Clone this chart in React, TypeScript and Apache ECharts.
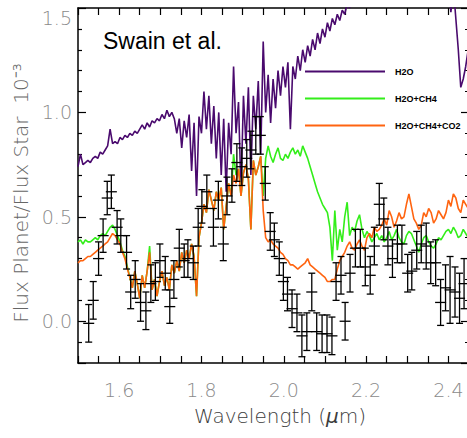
import { useEffect, useRef } from 'react';
import * as echarts from 'echarts';

// Model wavelength grid (micron)
const wavelength = [
  1.500, 1.506, 1.512, 1.518, 1.524, 1.530, 1.536, 1.542, 1.548, 1.554,
  1.560, 1.566, 1.572, 1.578, 1.584, 1.590, 1.596, 1.602, 1.608, 1.614,
  1.620, 1.626, 1.632, 1.638, 1.644, 1.650, 1.656, 1.662, 1.668, 1.674,
  1.680, 1.686, 1.692, 1.698, 1.704, 1.710, 1.716, 1.722, 1.728, 1.734,
  1.740, 1.746, 1.752, 1.758, 1.764, 1.770, 1.776, 1.782, 1.788, 1.794,
  1.800, 1.806, 1.812, 1.818, 1.824, 1.830, 1.836, 1.842, 1.848, 1.854,
  1.860, 1.866, 1.872, 1.878, 1.884, 1.890, 1.896, 1.902, 1.908, 1.914,
  1.920, 1.926, 1.932, 1.938, 1.944, 1.950, 1.956, 1.962, 1.968, 1.974,
  1.980, 1.986, 1.992, 1.998, 2.004, 2.010, 2.016, 2.022, 2.028, 2.034,
  2.040, 2.046, 2.052, 2.058, 2.064, 2.070, 2.076, 2.082, 2.088, 2.094,
  2.100, 2.106, 2.112, 2.118, 2.124, 2.130, 2.136, 2.142, 2.148, 2.154,
  2.160, 2.166, 2.172, 2.178, 2.184, 2.190, 2.196, 2.202, 2.208, 2.214,
  2.220, 2.226, 2.232, 2.238, 2.244, 2.250, 2.256, 2.262, 2.268, 2.274,
  2.280, 2.286, 2.292, 2.298, 2.304, 2.310, 2.316, 2.322, 2.328, 2.334,
  2.340, 2.346, 2.352, 2.358, 2.364, 2.370, 2.376, 2.382, 2.388, 2.394,
  2.400, 2.406, 2.412, 2.418, 2.424, 2.430, 2.436, 2.442, 2.448,
];

// H2O model (x 10^-3)
const fluxH2O = [
  0.74, 0.80, 0.75, 0.76, 0.77, 0.76, 0.78, 0.79, 0.78, 0.81,
  0.80, 0.82, 0.84, 0.92, 0.85, 0.86, 0.85, 0.88, 0.87, 0.89,
  0.88, 0.90, 0.89, 0.91, 0.90, 0.92, 0.94, 0.92, 0.95, 0.93,
  0.96, 0.95, 0.97, 0.96, 0.99, 0.97, 1.01, 0.98, 1.00, 0.97,
  0.90, 0.97, 0.83, 0.96, 0.88, 0.99, 0.72, 0.95, 0.60, 0.98,
  0.90, 1.10, 0.92, 1.08, 0.85, 1.03, 0.78, 1.00, 0.70, 0.97,
  0.62, 0.95, 0.80, 1.22, 0.90, 1.05, 0.62, 1.08, 0.85, 1.12,
  0.70, 1.08, 0.92, 1.15, 0.80, 1.34, 1.00, 1.18, 0.95, 1.16,
  1.02, 1.20, 1.08, 1.22, 1.12, 1.24, 0.92, 1.22, 1.16, 1.27,
  1.20, 1.30, 1.24, 1.32, 1.27, 1.35, 1.30, 1.38, 1.33, 1.40,
  1.36, 1.43, 1.39, 1.45, 1.42, 1.47, 1.44, 1.49, 1.47, 1.52,
  1.50, 1.55, 1.58, null, null, null, null, null, null, null,
  null, null, null, null, null, null, null, null, null, null,
  null, null, null, null, null, null, null, null, null, null,
  null, null, null, null, null, null, null, null, null, 1.66,
  1.62, 1.48, 1.60, 1.45, 1.30, 1.12, 1.16, 1.22, 1.30,
];

// H2O + CH4 model
const fluxH2OCH4 = [
  0.38, 0.39, 0.37, 0.39, 0.38, 0.38, 0.39, 0.40, 0.39, 0.41,
  0.42, 0.41, 0.43, 0.45, 0.46, 0.44, 0.41, 0.38, 0.34, 0.31,
  0.26, 0.21, 0.16, 0.24, 0.18, 0.11, 0.22, 0.16, 0.24, 0.36,
  0.15, 0.20, 0.12, 0.19, 0.24, 0.17, 0.21, 0.15, 0.27, 0.23,
  0.29, 0.24, 0.33, 0.28, 0.34, 0.30, 0.37, 0.31, 0.12, 0.40,
  0.47, 0.56, 0.52, 0.63, 0.58, 0.53, 0.62, 0.58, 0.64, 0.44,
  0.55, 0.66, 0.60, 0.80, 0.70, 0.73, 0.60, 0.71, 0.75, 0.68,
  0.44, 0.77, 0.70, 0.74, 0.79, 0.60, 0.78, 0.84, 0.79, 0.76,
  0.80, 0.83, 0.78, 0.77, 0.80, 0.78, 0.81, 0.83, 0.80, 0.82,
  0.79, 0.84, 0.81, 0.78, 0.74, 0.70, 0.66, 0.62, 0.59, 0.56,
  0.54, 0.52, 0.45, 0.29, 0.53, 0.34, 0.44, 0.38, 0.50, 0.57,
  0.41, 0.45, 0.43, 0.48, 0.51, 0.44, 0.40, 0.43, 0.41, 0.38,
  0.40, 0.42, 0.39, 0.41, 0.38, 0.40, 0.43, 0.39, 0.41, 0.44,
  0.40, 0.38, 0.37, 0.41, 0.43, 0.42, 0.39, 0.36, 0.33, 0.37,
  0.40, 0.41, 0.38, 0.36, 0.35, 0.37, 0.40, 0.39, 0.41, 0.43,
  0.44, 0.42, 0.45, 0.43, 0.40, 0.41, 0.44, 0.42, 0.40,
];

// H2O + CH4 + CO2 model
const fluxH2OCH4CO2 = [
  0.28, 0.29, 0.29, 0.30, 0.31, 0.31, 0.32, 0.33, 0.34, 0.35,
  0.36, 0.37, 0.38, 0.40, 0.42, 0.41, 0.39, 0.37, 0.33, 0.30,
  0.25, 0.21, 0.16, 0.24, 0.18, 0.11, 0.22, 0.16, 0.24, 0.33,
  0.15, 0.20, 0.12, 0.19, 0.24, 0.17, 0.21, 0.15, 0.27, 0.23,
  0.29, 0.24, 0.33, 0.28, 0.34, 0.30, 0.37, 0.31, 0.12, 0.40,
  0.47, 0.56, 0.52, 0.63, 0.58, 0.53, 0.62, 0.58, 0.64, 0.44,
  0.55, 0.66, 0.60, 0.70, 0.66, 0.73, 0.60, 0.71, 0.75, 0.68,
  0.44, 0.77, 0.70, 0.74, 0.79, 0.53, 0.40, 0.38, 0.39, 0.37,
  0.36, 0.35, 0.33, 0.32, 0.30, 0.29, 0.27, 0.27, 0.26, 0.25,
  0.26, 0.27, 0.28, 0.30, 0.27, 0.26, 0.25, 0.24, 0.23, 0.22,
  0.21, 0.19, 0.19, 0.20, 0.20, 0.25, 0.29, 0.31, 0.33, 0.36,
  0.38, 0.35, 0.34, 0.37, 0.39, 0.36, 0.34, 0.40, 0.42, 0.40,
  0.45, 0.43, 0.44, 0.46, 0.49, 0.46, 0.53, 0.50, 0.45, 0.48,
  0.52, 0.49, 0.50, 0.56, 0.61, 0.55, 0.49, 0.47, 0.44, 0.46,
  0.52, 0.50, 0.54, 0.52, 0.47, 0.49, 0.53, 0.51, 0.49, 0.52,
  0.58, 0.55, 0.61, 0.59, 0.54, 0.52, 0.58, 0.56, 0.54,
];

// Observed spectrum (Swain et al.)
const obsWavelength = [
  1.526, 1.537, 1.550, 1.561, 1.571, 1.581, 1.595, 1.604, 1.618, 1.628,
  1.639, 1.652, 1.665, 1.677, 1.688, 1.699, 1.712, 1.723, 1.733, 1.746,
  1.758, 1.767, 1.780, 1.792, 1.801, 1.813, 1.829, 1.841, 1.853, 1.862,
  1.874, 1.886, 1.898, 1.910, 1.920, 1.932, 1.943, 1.955, 1.967, 1.977,
  1.989, 1.999, 2.009, 2.020, 2.032, 2.044, 2.056, 2.068, 2.080, 2.093,
  2.105, 2.117, 2.127, 2.139, 2.149, 2.161, 2.174, 2.186, 2.198, 2.210,
  2.220, 2.232, 2.243, 2.253, 2.264, 2.276, 2.287, 2.301, 2.311, 2.323,
  2.334, 2.346, 2.357, 2.369, 2.381, 2.393, 2.404, 2.416, 2.427, 2.438,
];
const obsFlux = [
  -0.01, 0.10, 0.30, 0.41, 0.59, 0.62, 0.45, 0.41, 0.33, 0.14,
  0.20, 0.09, 0.05, 0.18, 0.19, 0.29, 0.23, 0.07, 0.20, 0.35,
  0.29, 0.30, 0.28, 0.45, 0.55, 0.62, 0.45, 0.58, 0.37, 0.60,
  0.65, 0.76, 0.74, 0.78, 0.82, 0.89, 0.89, 0.66, 0.43, 0.39,
  0.30, 0.19, 0.13, 0.06, 0.04, -0.07, -0.05, 0.14, -0.05, -0.06,
  -0.06, -0.07, 0.19, 0.22, 0.00, 0.23, 0.35, 0.35, 0.26, 0.22,
  0.36, 0.56, 0.49, 0.36, 0.30, 0.37, 0.37, 0.23, 0.24, 0.34,
  0.37, 0.36, 0.28, 0.28, 0.09, 0.16, 0.15, 0.14, 0.11, 0.18,
];
const obsError = [
  0.09, 0.09, 0.08, 0.08, 0.08, 0.08, 0.08, 0.08, 0.08, 0.08,
  0.09, 0.09, 0.09, 0.09, 0.09, 0.08, 0.08, 0.08, 0.09, 0.09,
  0.08, 0.09, 0.08, 0.09, 0.08, 0.08, 0.09, 0.09, 0.08, 0.09,
  0.08, 0.09, 0.09, 0.09, 0.09, 0.09, 0.09, 0.08, 0.09, 0.08,
  0.08, 0.09, 0.08, 0.09, 0.09, 0.10, 0.09, 0.09, 0.09, 0.09,
  0.09, 0.09, 0.09, 0.09, 0.09, 0.09, 0.09, 0.09, 0.09, 0.09,
  0.09, 0.10, 0.10, 0.09, 0.09, 0.09, 0.09, 0.09, 0.09, 0.09,
  0.09, 0.11, 0.10, 0.11, 0.11, 0.11, 0.16, 0.12, 0.12, 0.12,
];
const obsBinHalfWidth = 0.0134;

const seriesNames = ['H2O', 'H2O+CH4', 'H2O+CH4+CO2'];
const seriesColors = ['#4a0a6e', '#33ee1a', '#ff6410'];

export default function App() {
  const ref = useRef<HTMLDivElement>(null);

  useEffect(() => {
    const chart = echarts.init(ref.current!, null, { renderer: 'svg' });
    const pair = (ys: (number | null)[]) => wavelength.map((x, i) => [x, ys[i]]);
    const lineStyleAxis = { color: '#000', width: 1.5 };
    const tickStyle = { color: '#000', width: 1.2 };
    const fam = '"DejaVu Sans", sans-serif';
    const labelFont = { color: '#8a8a8a', fontFamily: fam, fontWeight: 200 as any, fontSize: 19 };
    const fmt = (v: number) => v.toFixed(1);

    const lineSeries = [fluxH2O, fluxH2OCH4, fluxH2OCH4CO2].map((ys, k) => ({
      type: 'line',
      name: seriesNames[k],
      data: pair(ys),
      showSymbol: false,
      symbol: 'none',
      connectNulls: false,
      clip: true,
      z: 2 + k,
      lineStyle: { color: seriesColors[k], width: 1.6 },
      itemStyle: { color: seriesColors[k] },
    }));

    const option: any = {
      animation: false,
      backgroundColor: '#fff',
      grid: { left: 78, top: 8, width: 391, height: 355, outerBoundsMode: 'none', containLabel: false },
      xAxis: [
        {
          type: 'value', min: 1.5, max: 2.45, splitNumber: 5, position: 'bottom',
          axisLine: { show: true, onZero: false, lineStyle: lineStyleAxis },
          axisTick: { show: true, inside: true, length: 7, lineStyle: tickStyle },
          minorTick: { show: true, splitNumber: 4, length: 7, lineStyle: tickStyle },
          splitLine: { show: false },
          axisLabel: { ...labelFont, margin: 17, showMinLabel: false, showMaxLabel: false, formatter: fmt },
        },
        {
          type: 'value', min: 1.5, max: 2.45, splitNumber: 5, position: 'top',
          axisLine: { show: true, onZero: false, lineStyle: lineStyleAxis },
          axisTick: { show: true, inside: true, length: 7, lineStyle: tickStyle },
          minorTick: { show: true, splitNumber: 4, length: 7, lineStyle: tickStyle },
          splitLine: { show: false },
          axisLabel: { show: false },
        },
      ],
      yAxis: [
        {
          type: 'value', min: -0.2, max: 1.5, splitNumber: 3, position: 'left',
          axisLine: { show: true, onZero: false, lineStyle: lineStyleAxis },
          axisTick: { show: true, inside: true, length: 8, lineStyle: tickStyle },
          minorTick: { show: true, splitNumber: 5, length: 4, lineStyle: tickStyle },
          splitLine: { show: false },
          axisLabel: { ...labelFont, margin: 6, showMinLabel: false, formatter: fmt, verticalAlignMaxLabel: 'top' },
        },
        {
          type: 'value', min: -0.2, max: 1.5, splitNumber: 3, position: 'right',
          axisLine: { show: true, onZero: false, lineStyle: lineStyleAxis },
          axisTick: { show: true, inside: true, length: 8, lineStyle: tickStyle },
          minorTick: { show: true, splitNumber: 5, length: 4, lineStyle: tickStyle },
          splitLine: { show: false },
          axisLabel: { show: false },
        },
      ],
      legend: {
        data: seriesNames,
        orient: 'vertical',
        left: 305,
        top: 67,
        padding: 0,
        itemWidth: 80,
        itemHeight: 2,
        itemGap: 18,
        icon: 'rect',
        selectedMode: false,
        textStyle: {
          fontSize: 9, fontWeight: 'bold', color: '#000',
          fontFamily: '"Liberation Sans Narrow", "Liberation Sans", Arial, sans-serif',
          padding: [0, 0, 0, 5],
        },
      },
      graphic: [
        {
          type: 'text', left: 103, top: 29, z: 20,
          style: { text: 'Swain et al.', fill: '#000', fontSize: 23, fontFamily: '"Liberation Sans", Arial, sans-serif' },
        },
        {
          type: 'text', x: 21, y: 193, rotation: Math.PI / 2, z: 20,
          style: {
            text: 'Flux Planet/Flux Star  10⁻³', fill: '#666',
            fontSize: 20, fontFamily: fam, fontWeight: 200,
            align: 'center', verticalAlign: 'middle', textAlign: 'center', textVerticalAlign: 'middle',
          },
        },
        {
          type: 'text', x: 280, y: 416, z: 20,
          style: {
            text: 'Wavelength ({i|μ}m)', fill: '#3c3c3c',
            fontSize: 20, fontFamily: fam, fontWeight: 200,
            align: 'center', verticalAlign: 'middle', textAlign: 'center', textVerticalAlign: 'middle',
            rich: { i: { fontStyle: 'italic', fill: '#3c3c3c', fontSize: 20, fontFamily: fam, fontWeight: 200 } },
          },
        },
      ],
      series: [
        ...lineSeries,
        {
          type: 'custom',
          name: 'Observed',
          z: 10,
          clip: true,
          data: obsWavelength.map((x, i) => [x, obsFlux[i], obsError[i]]),
          encode: { x: 0, y: 1 },
          renderItem: (_params: any, api: any) => {
            const x = api.value(0) as number;
            const y = api.value(1) as number;
            const e = api.value(2) as number;
            const top = api.coord([x, y + e]);
            const bot = api.coord([x, y - e]);
            const l = api.coord([x - obsBinHalfWidth, y]);
            const r = api.coord([x + obsBinHalfWidth, y]);
            const cap = 3.5;
            const style = { stroke: '#000', lineWidth: 1.3 };
            return {
              type: 'group',
              children: [
                { type: 'line', shape: { x1: top[0], y1: top[1], x2: bot[0], y2: bot[1] }, style },
                { type: 'line', shape: { x1: top[0] - cap, y1: top[1], x2: top[0] + cap, y2: top[1] }, style },
                { type: 'line', shape: { x1: bot[0] - cap, y1: bot[1], x2: bot[0] + cap, y2: bot[1] }, style },
                { type: 'line', shape: { x1: l[0], y1: l[1], x2: r[0], y2: r[1] }, style },
              ],
            };
          },
        },
      ],
    };

    chart.setOption(option);
    return () => chart.dispose();
  }, []);

  return (
    <div
      ref={ref}
      style={{ position: 'fixed', left: 0, top: 0, width: 467, height: 438, background: '#fff' }}
    />
  );
}
